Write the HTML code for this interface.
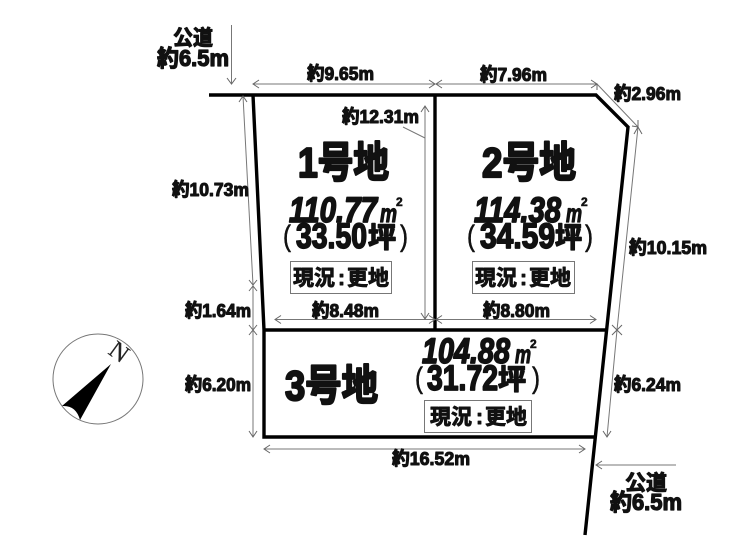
<!DOCTYPE html>
<html lang="ja"><head><meta charset="utf-8">
<style>
html,body{margin:0;padding:0;background:#fff;width:740px;height:560px;overflow:hidden}
svg{display:block}
text{font-family:"Liberation Sans","Noto Sans CJK JP",sans-serif;font-weight:700;fill:#111;stroke:#111;paint-order:stroke;stroke-linejoin:round}
.d{font-size:18.500px;stroke-width:1.100px}
.r{font-size:23px;stroke-width:1.300px}
.r2{font-size:21px;stroke-width:1.100px}
.t{font-size:42px;stroke-width:2.200px}
.a{font-size:35px;stroke-width:1.700px;font-style:italic}
.b{font-size:35px;stroke-width:1.700px}
.k{font-size:28px;stroke-width:1.500px}
.p{font-size:30px;stroke-width:.6px;font-weight:400}
.m{font-size:25px;stroke-width:1.200px;font-style:italic}
.s{font-size:12px;stroke-width:.6px}
.g{font-size:21px;stroke-width:.9px}
.dim{stroke:#777;stroke-width:1;fill:none}
.ah{stroke:#666;stroke-width:1;fill:none}
.w{stroke:#000;stroke-width:3.400;fill:none}
</style></head><body>
<svg width="740" height="560" viewBox="0 0 740 560" xmlns="http://www.w3.org/2000/svg">
<!-- boundary -->
<path class="w" d="M209 95H596L628 127L585 535"/>
<path class="w" d="M253 95L264 330V437H595"/>
<path class="w" d="M435 95V330M264 330H607"/>
<!-- dims -->
<g class="dim">
<path d="M231.500 25V84"/>
<path d="M253 84H435M436 84H597"/>
<path d="M597 84L638 127"/>
<path d="M638 127L617 330L607 437"/>
<path d="M243 96L253 285V437"/>
<path d="M425 106V319M403 127L425 138"/>
<path d="M275 319.500H435M436 319.500H596"/>
<path d="M264 449H585"/>
<path d="M596 465H676"/>
</g>
<g class="ah">
<path d="M227 78L231.500 84L236 78"/>
<path d="M259 80L253 84L259 88M429 80L435 84L429 88M442 80L436 84L442 88M591 80L597 84L591 88"/>
<path d="M590 84L597 84L597 90M632 126L638 127L638 120"/>
<path d="M634 134L638 127L642 134M612 325L617 330L622 325M612 335L617 330L622 335M603 431L607 437L611 431"/>
<path d="M239 102L243 96L247 102M249 280L253 285L257 280M249 291L253 286L257 291M249 325L253 330L257 325M249 335L253 330L257 335M249 431L253 437L257 431"/>
<path d="M421 112L425 106L429 112M421 313L425 319L429 313"/>
<path d="M281 315.500L275 319.500L281 323.500M429 315.500L435 319.500L429 323.500M442 315.500L436 319.500L442 323.500M590 315.500L596 319.500L590 323.500"/>
<path d="M270 445L264 449L270 453M579 445L585 449L579 453"/>
<path d="M602 461L596 465L602 469"/>
</g>
<!-- compass -->
<circle cx="98" cy="379" r="45" fill="none" stroke="#777" stroke-width="1"/>
<path d="M111 364L62 406Q76 405 80 420Z" fill="#000"/>
<text x="0" y="8" text-anchor="middle" transform="translate(119 352) rotate(36)" style="font-family:'Liberation Serif',serif;font-weight:400;font-size:25px;stroke-width:.2px;fill:#222">N</text>
<!-- labels -->
<text class="r2" x="173" y="45" textLength="40" lengthAdjust="spacingAndGlyphs">公道</text>
<text class="r" x="157" y="66" textLength="72" lengthAdjust="spacingAndGlyphs">約6.5m</text>
<text class="r2" x="625" y="490" textLength="42" lengthAdjust="spacingAndGlyphs">公道</text>
<text class="r" x="610" y="510" textLength="72" lengthAdjust="spacingAndGlyphs">約6.5m</text>
<text class="d" x="307" y="80" textLength="67" lengthAdjust="spacingAndGlyphs">約9.65m</text>
<text class="d" x="480" y="81" textLength="67" lengthAdjust="spacingAndGlyphs">約7.96m</text>
<text class="d" x="614" y="100" textLength="67" lengthAdjust="spacingAndGlyphs">約2.96m</text>
<text class="d" x="342" y="123" textLength="77" lengthAdjust="spacingAndGlyphs">約12.31m</text>
<text class="d" x="172" y="196" textLength="77" lengthAdjust="spacingAndGlyphs">約10.73m</text>
<text class="d" x="185" y="317" textLength="66" lengthAdjust="spacingAndGlyphs">約1.64m</text>
<text class="d" x="185" y="391" textLength="66" lengthAdjust="spacingAndGlyphs">約6.20m</text>
<text class="d" x="312" y="317" textLength="67" lengthAdjust="spacingAndGlyphs">約8.48m</text>
<text class="d" x="483" y="317" textLength="67" lengthAdjust="spacingAndGlyphs">約8.80m</text>
<text class="d" x="629" y="254" textLength="78" lengthAdjust="spacingAndGlyphs">約10.15m</text>
<text class="d" x="614" y="391" textLength="67" lengthAdjust="spacingAndGlyphs">約6.24m</text>
<text class="d" x="392" y="465" textLength="78" lengthAdjust="spacingAndGlyphs">約16.52m</text>
<!-- lot titles -->
<text class="t" x="298" y="177" textLength="91" lengthAdjust="spacingAndGlyphs">1号地</text>
<text class="t" x="482" y="177" textLength="94" lengthAdjust="spacingAndGlyphs">2号地</text>
<text class="t" x="285" y="400" textLength="93" lengthAdjust="spacingAndGlyphs">3号地</text>
<!-- areas -->
<text class="a" x="289" y="222" textLength="88" lengthAdjust="spacingAndGlyphs">110.77</text>
<text class="m" x="380" y="222" textLength="17" lengthAdjust="spacingAndGlyphs">m</text><text class="s" x="396" y="206">2</text>
<text class="p" x="283" y="246" textLength="8" lengthAdjust="spacingAndGlyphs">(</text>
<text class="b" x="296" y="248" textLength="71" lengthAdjust="spacingAndGlyphs">33.50</text>
<text class="k" x="368" y="247" textLength="28" lengthAdjust="spacingAndGlyphs">坪</text>
<text class="p" x="400" y="246" textLength="8" lengthAdjust="spacingAndGlyphs">)</text>

<text class="a" x="474" y="222" textLength="87" lengthAdjust="spacingAndGlyphs">114.38</text>
<text class="m" x="566" y="222" textLength="16" lengthAdjust="spacingAndGlyphs">m</text><text class="s" x="581" y="206">2</text>
<text class="p" x="467" y="246" textLength="8" lengthAdjust="spacingAndGlyphs">(</text>
<text class="b" x="480" y="248" textLength="75" lengthAdjust="spacingAndGlyphs">34.59</text>
<text class="k" x="555" y="247" textLength="27" lengthAdjust="spacingAndGlyphs">坪</text>
<text class="p" x="585" y="246" textLength="8" lengthAdjust="spacingAndGlyphs">)</text>

<text class="a" x="422" y="363" textLength="88" lengthAdjust="spacingAndGlyphs">104.88</text>
<text class="m" x="515" y="363" textLength="16" lengthAdjust="spacingAndGlyphs">m</text><text class="s" x="530" y="348">2</text>
<text class="p" x="415" y="388" textLength="8" lengthAdjust="spacingAndGlyphs">(</text>
<text class="b" x="427" y="390" textLength="71" lengthAdjust="spacingAndGlyphs">31.72</text>
<text class="k" x="498" y="389" textLength="28" lengthAdjust="spacingAndGlyphs">坪</text>
<text class="p" x="532" y="388" textLength="8" lengthAdjust="spacingAndGlyphs">)</text>
<!-- status boxes -->
<g fill="#fff" stroke="#777" stroke-width="1">
<rect x="290.500" y="261.500" width="101" height="32"/>
<rect x="472.500" y="261.500" width="102" height="32"/>
<rect x="424.500" y="400.500" width="107" height="32"/>
</g>
<text class="g" x="293" y="285">現況<tspan x="338">:</tspan><tspan x="347">更地</tspan></text>
<text class="g" x="475" y="285">現況<tspan x="520">:</tspan><tspan x="529">更地</tspan></text>
<text class="g" x="430" y="424">現況<tspan x="476">:</tspan><tspan x="485">更地</tspan></text>
</svg>
</body></html>
